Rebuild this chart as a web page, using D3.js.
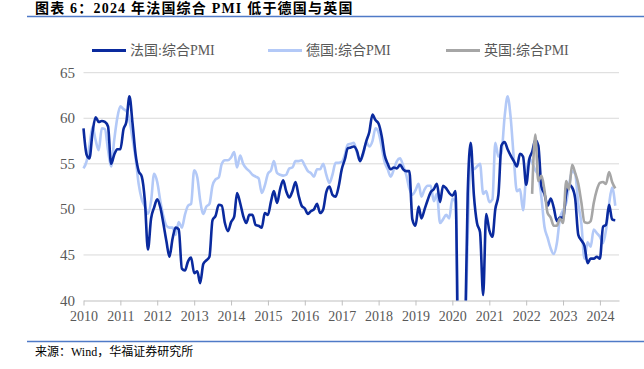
<!DOCTYPE html>
<html>
<head>
<meta charset="utf-8">
<script src="https://cdn.jsdelivr.net/npm/d3@7/dist/d3.min.js"></script>
<style>
  body { margin: 0; background: #fff; }
  svg { display: block; }
</style>
</head>
<body>
<div id="chart"></div>
<script>
// data: monthly composite PMI
const seriesNames = ['法国:综合PMI', '德国:综合PMI', '英国:综合PMI'];

const franceStart = new Date(2010, 0, 1);
const france = [
  58.9, 56.0, 55.6, 58.5, 60.1, 59.6, 59.7, 59.6, 59.1, 55.0, 56.0, 56.6,
  56.6, 58.8, 59.6, 62.4, 59.5, 56.0, 54.2, 53.6, 50.9, 45.6, 49.0, 50.2,
  51.1, 50.2, 48.5, 46.5, 44.8, 46.8, 48.0, 47.8, 43.5, 43.3, 44.3, 44.7,
  43.0, 43.2, 41.9, 44.0, 44.4, 44.8, 48.8, 49.3, 50.5, 50.4, 48.5, 47.6,
  48.6, 49.2, 51.8, 50.7, 49.3, 48.5, 49.4, 49.4, 48.3, 48.2, 48.0, 49.6,
  49.4, 50.9, 52.0, 50.7, 52.2, 53.2, 52.0, 51.3, 52.0, 53.0, 51.5, 50.4,
  50.1, 49.5, 49.8, 50.0, 50.6, 49.6, 50.0, 51.9, 52.5, 51.6, 51.4, 52.5,
  54.4, 55.5, 56.7, 56.8, 56.9, 56.4, 55.3, 56.2, 57.5, 58.5, 60.4, 59.8,
  59.4, 58.0, 56.0, 55.0, 54.4, 54.6, 54.5, 54.9, 54.4, 54.2, 54.2, 48.9,
  48.2, 50.3, 49.0, 50.0, 51.0, 51.9, 52.2, 52.8, 50.8, 52.6, 52.3, 51.8,
  51.5, 52.0, 28.9, 11.1, 32.1, 51.7, 57.3, 51.6, 48.5, 47.5, 40.6, 49.5,
  47.7, 47.0, 50.0, 51.6, 57.0, 57.4, 56.6, 55.9, 55.3, 54.7, 56.1, 55.8,
  52.7, 55.5, 56.3, 57.6, 57.0, 52.5, 51.7, 50.4, 51.2, 50.2, 48.7, 49.1,
  49.1, 51.7, 52.7, 52.4, 51.2, 47.2, 46.6, 46.0, 44.1, 44.6, 44.6, 44.8,
  44.6, 48.1, 48.3, 50.5, 48.9, 48.8
];

const germanyStart = new Date(2010, 0, 1);
const germany = [
  54.5, 55.3, 57.0, 59.1, 57.6, 56.5, 58.9, 58.8, 56.5, 54.7, 57.6, 60.0,
  61.3, 61.0, 60.8, 59.8, 57.8, 55.6, 52.8, 51.1, 50.3, 49.5, 50.9, 53.9,
  53.0, 50.9, 49.3, 48.2, 48.0, 48.0, 47.2, 48.6, 48.0, 49.4, 50.4, 50.6,
  54.3, 53.5, 51.0, 49.5, 50.3, 50.6, 52.6, 53.3, 53.5, 55.0, 55.4, 55.4,
  55.7, 56.3, 54.6, 55.9, 55.0, 54.5, 54.2, 53.8, 53.6, 53.4, 51.8, 52.6,
  53.9, 54.3, 55.3, 54.0, 53.8, 53.7, 53.8, 54.5, 54.6, 55.3, 55.3, 55.4,
  54.8, 54.2, 54.0, 53.6, 54.4, 54.4, 55.0, 53.8, 52.9, 53.8, 55.1, 55.1,
  55.2, 56.0, 57.1, 57.2, 57.3, 56.2, 55.3, 56.0, 57.4, 56.9, 57.5, 58.9,
  58.4, 56.8, 55.2, 54.4, 53.6, 54.4, 55.3, 55.6, 54.8, 53.8, 52.3, 51.6,
  52.1, 52.8, 51.4, 52.2, 52.6, 52.6, 50.9, 51.7, 48.5, 48.9, 49.4, 49.0,
  51.2, 50.7, 35.0, 17.4, 32.3, 47.0, 55.3, 54.4, 54.7, 55.0, 51.7, 52.0,
  50.8, 51.1, 57.3, 55.8, 56.2, 60.1, 62.4, 60.0, 55.5, 52.0, 52.2, 49.9,
  53.8, 55.6, 55.1, 54.3, 53.7, 51.3, 48.1, 46.9, 45.7, 45.1, 46.3, 49.0,
  49.9, 50.7, 52.6, 54.2, 53.9, 50.6, 48.5, 44.6, 46.4, 45.9, 47.8, 47.4,
  47.0, 46.3, 47.7, 50.6, 52.4, 50.4
];

const ukStart = new Date(2022, 2, 1);
const uk = [
  51.7, 58.2, 53.1, 53.7, 52.1, 49.6, 49.1, 48.2, 48.2, 49.0,
  48.5, 53.1, 52.2, 54.9, 54.0, 52.8, 50.8, 48.6, 48.5, 48.7, 50.7, 52.1,
  52.9, 53.0, 52.8, 54.1, 53.0, 52.3
];

const yTicks = [40, 45, 50, 55, 60, 65];
const xYears = d3.range(2010, 2025);

// settings
const width = 644, height = 369;
const plot = { left: 83.5, right: 619, top: 72.7, bottom: 300.5 };
const colors = ['#0a2a9e', '#b3c9f7', '#a6a6a6'];
const serif = '"Liberation Serif", "Times New Roman", "Noto Sans CJK SC", serif';

const toPoints = (start, vals) => vals.map((v, i) => ({ date: d3.timeMonth.offset(start, i), value: v }));
const series = [
  { name: seriesNames[0], color: colors[0], points: toPoints(franceStart, france) },
  { name: seriesNames[1], color: colors[1], points: toPoints(germanyStart, germany) },
  { name: seriesNames[2], color: colors[2], points: toPoints(ukStart, uk) }
];

const x = d3.scaleTime()
  .domain([new Date(2010, 0, 1), new Date(2024, 6, 8)])
  .range([plot.left, plot.right]);
const y = d3.scaleLinear()
  .domain([40, 65])
  .range([plot.bottom, plot.top]);

const svg = d3.select('#chart').append('svg')
  .attr('width', width)
  .attr('height', height);

// title
svg.append('text')
  .attr('x', 35).attr('y', 13)
  .attr('font-family', serif)
  .attr('font-weight', 'bold')
  .attr('font-size', 14)
  .attr('letter-spacing', 1.2)
  .attr('fill', '#000')
  .text('图表 6：2024 年法国综合 PMI 低于德国与英国');
svg.append('line')
  .attr('x1', 27).attr('x2', width)
  .attr('y1', 16.5).attr('y2', 16.5)
  .attr('stroke', '#4f7ac7').attr('stroke-width', 1.5);

// grid
svg.append('g')
  .selectAll('line')
  .data(yTicks.filter(d => d > 40))
  .join('line')
  .attr('x1', plot.left).attr('x2', plot.right)
  .attr('y1', d => y(d)).attr('y2', d => y(d))
  .attr('stroke', '#d9d9d9').attr('stroke-width', 1);

// y labels
svg.append('g')
  .selectAll('text')
  .data(yTicks)
  .join('text')
  .attr('x', 75)
  .attr('y', d => y(d) + 5)
  .attr('text-anchor', 'end')
  .attr('font-family', serif)
  .attr('font-size', 15)
  .attr('fill', '#595959')
  .text(d => d);

// x axis
const xAxis = svg.append('g')
  .attr('transform', `translate(0, ${plot.bottom})`)
  .call(d3.axisBottom(x)
    .tickValues(xYears.map(yr => new Date(yr, 0, 1)))
    .tickFormat(d3.timeFormat('%Y'))
    .tickSize(5)
    .tickSizeOuter(0)
    .tickPadding(6));
xAxis.select('.domain').attr('stroke', '#bfbfbf');
xAxis.selectAll('.tick line').attr('stroke', '#bfbfbf');
xAxis.selectAll('.tick text')
  .attr('font-family', serif)
  .attr('font-size', 14)
  .attr('fill', '#595959');

// lines
svg.append('clipPath').attr('id', 'clip')
  .append('rect')
  .attr('x', plot.left - 2).attr('y', plot.top - 10)
  .attr('width', plot.right - plot.left + 4)
  .attr('height', plot.bottom - plot.top + 10);

const line = d3.line()
  .curve(d3.curveMonotoneX)
  .x(d => x(d.date))
  .y(d => y(d.value));

svg.append('g')
  .attr('clip-path', 'url(#clip)')
  .selectAll('path')
  .data([series[1], series[0], series[2]])
  .join('path')
  .attr('d', d => line(d.points))
  .attr('fill', 'none')
  .attr('stroke', d => d.color)
  .attr('stroke-width', 2.6)
  .attr('stroke-linejoin', 'round');

// legend
const legendX = [92, 268, 446];
const legend = svg.append('g');
series.forEach((s, i) => {
  legend.append('line')
    .attr('x1', legendX[i]).attr('x2', legendX[i] + 34)
    .attr('y1', 50.5).attr('y2', 50.5)
    .attr('stroke', s.color).attr('stroke-width', 2.8);
  legend.append('text')
    .attr('x', legendX[i] + 38).attr('y', 55)
    .attr('font-family', serif)
    .attr('font-size', 14)
    .attr('fill', '#595959')
    .text(s.name);
});

// footer
svg.append('line')
  .attr('x1', 27).attr('x2', width)
  .attr('y1', 341.5).attr('y2', 341.5)
  .attr('stroke', '#4f7ac7').attr('stroke-width', 1.5);
svg.append('text')
  .attr('x', 35).attr('y', 356)
  .attr('font-family', serif)
  .attr('font-size', 12)
  .attr('fill', '#000')
  .text('来源：Wind，华福证券研究所');
</script>
</body>
</html>
